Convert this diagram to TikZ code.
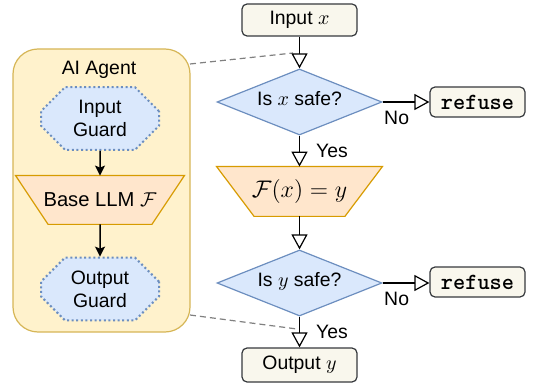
\documentclass[tikz,border=0pt]{standalone}
\usepackage{fontspec}
\setmainfont{Liberation Sans}
\usetikzlibrary{shapes.geometric,shapes.misc,arrows.meta}
\pgfdeclarelayer{bg}
\pgfsetlayers{bg,main}
\definecolor{agentfill}{HTML}{FFF2CC}
\definecolor{agentborder}{HTML}{D6B656}
\definecolor{bluefill}{HTML}{DAE8FC}
\definecolor{blueborder}{HTML}{6C8EBF}
\definecolor{orangefill}{HTML}{FFE6CC}
\definecolor{orangeborder}{HTML}{D79B00}
\definecolor{termfill}{HTML}{F9F7ED}
\definecolor{termborder}{HTML}{36393D}
\definecolor{dashgray}{HTML}{808080}
\tikzset{
  agentbox/.style={draw=agentborder, fill=agentfill, rounded corners=12.5pt, line width=0.6pt, minimum width=88.5pt, minimum height=141.5pt},
  guard/.style={chamfered rectangle, chamfered rectangle xsep=5.5pt, chamfered rectangle ysep=6.5pt, draw=blueborder, fill=bluefill, line width=1pt, dash pattern=on 1pt off 1.3pt, minimum width=59pt, minimum height=28.5pt, align=center, inner sep=0pt},
  modelbox/.style={rectangle, inner sep=0pt},
  modelshape/.style={draw=orangeborder, fill=orangefill, line width=0.6pt},
  decision/.style={diamond, aspect=2.5, draw=blueborder, fill=bluefill, line width=0.6pt, minimum width=82.5pt, minimum height=33pt, inner sep=0pt, text depth=4pt},
  term/.style={draw=termborder, fill=termfill, rounded corners=2.5pt, line width=0.6pt, minimum width=57.5pt, minimum height=16pt},
  refusebox/.style={draw=termborder, fill=termfill, rounded corners=2.5pt, line width=0.6pt, minimum width=47.5pt, minimum height=15pt, font=\fontsize{11.6}{13}\selectfont\ttfamily\bfseries},
  solidarrow/.style={-{Stealth[length=5pt,width=5pt,inset=1pt]}, line width=0.75pt, black},
  openarrow/.style={-{Triangle[open,fill=white,length=7.5pt,width=8pt]}, line width=0.6pt, black},
  dashline/.style={dashgray, line width=0.6pt, dash pattern=on 3pt off 2pt},
  lbl/.style={inner sep=0pt}
}
\begin{document}
\begin{tikzpicture}[x=0.5pt,y=-0.5pt, font=\fontsize{9.7}{11.5}\selectfont]
\useasboundingbox (0,0) rectangle (536,385);
% left: agent
\begin{pgfonlayer}{bg}
\node[agentbox] (agent) at (101.5,190.5) {};
\end{pgfonlayer}
\coordinate (a1) at (190,64);
\coordinate (b1) at (293,53);
\coordinate (a2) at (190,315);
\coordinate (b2) at (297,329);
\draw[dashline] (a1) -- (b1);
\draw[dashline] (a2) -- (b2);
\node[lbl] (agentlbl) at (99,70) {AI Agent};
\node[guard] (ig) at (100,118.5) {Input\\Guard};
\node[modelbox, minimum width=84pt, minimum height=24pt, font=\fontsize{10.1}{12}\selectfont] (llm) at (100,200) {Base LLM $\mathcal{F}$};
\begin{pgfonlayer}{bg}
\draw[modelshape] (llm.north west) -- (llm.north east) -- ([xshift=-16.25pt]llm.south east) -- ([xshift=16.25pt]llm.south west) -- cycle;
\end{pgfonlayer}
\node[guard] (og) at (100,289) {Output\\Guard};
\draw[solidarrow] (ig) -- (llm);
\draw[solidarrow] (llm) -- (og);
% right: flow
\node[term] (in) at (299.5,20) {Input $x$};
\node[decision] (d1) at (299.5,102) {Is $x$ safe?};
\node[refusebox] (r1) at (477.5,102) {refuse};
\node[modelbox, minimum width=82.5pt, minimum height=24.5pt, font=\fontsize{12}{14}\selectfont] (f) at (299.5,191.5) {$\mathcal{F}(x)=y$};
\begin{pgfonlayer}{bg}
\draw[modelshape] (f.north west) -- (f.north east) -- ([xshift=-18.75pt]f.south east) -- ([xshift=18.75pt]f.south west) -- cycle;
\end{pgfonlayer}
\node[decision] (d2) at (299.5,283) {Is $y$ safe?};
\node[refusebox] (r2) at (477.5,282) {refuse};
\node[term, minimum height=17pt] (out) at (299.5,365) {Output $y$};
\draw[openarrow] (in) -- (d1);
\draw[openarrow] (d1.east) -- node[pos=0.3, below=4.5pt, lbl] {No} (r1.west);
\draw[openarrow] (d1) -- node[pos=0.5, right=8pt, lbl] {Yes} (f);
\draw[openarrow] (f) -- (d2);
\draw[openarrow] (d2.east) -- node[pos=0.3, below=4.5pt, lbl] {No} (d2.east -| r2.west);
\draw[openarrow] (d2) -- node[pos=0.5, right=8pt, lbl] {Yes} (out);
\end{tikzpicture}
\end{document}
